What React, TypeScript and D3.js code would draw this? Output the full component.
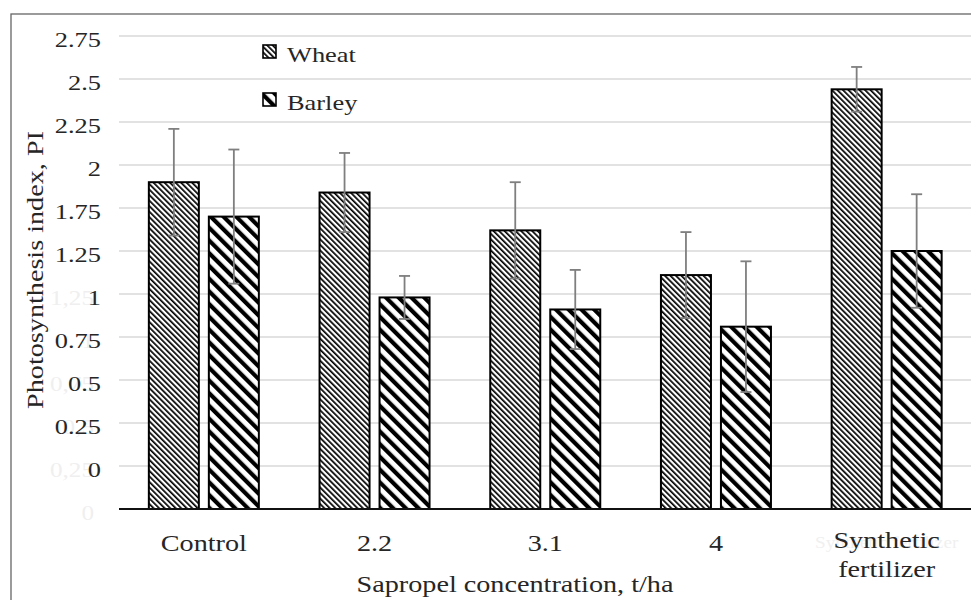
import React from "react";
import * as d3 from "d3";

const categories = ["Control", "2.2", "3.1", "4", "Synthetic\nfertilizer"];
const seriesNames = ["Wheat", "Barley"];
const wheat = [1.9, 1.84, 1.62, 1.36, 2.44];
const barley = [1.7, 1.23, 1.16, 1.06, 1.5];
const wheatErr = [0.31, 0.23, 0.28, 0.25, 0.13];
const barleyErr = [0.39, 0.125, 0.23, 0.38, 0.33];
const tickValues = [0.25, 0.5, 0.75, 1, 1.25, 1.5, 1.75, 2, 2.25, 2.5, 2.75];
const tickLabels = ["0", "0.25", "0.5", "0.75", "1", "1.25", "1.75", "2", "2.25", "2.5", "2.75"];
const ghostTickValues = [0, 0.25, 0.5, 0.75, 1, 1.25];
const ghostTickLabels = ["0", "0,25", "0,5", "0,75", "1", "1,25"];
const yTitle = "Photosynthesis index, PI";
const xTitle = "Sapropel concentration, t/ha";

const W = 971;
const H = 600;
const SX = 1.2;
const FONT = "'Liberation Serif', 'Times New Roman', serif";
const TXT = "#262626";

function T({ x, y, anchor = "start", size = 22, rot = 0, sx = SX, fill = TXT, children }: any) {
  return (
    <g transform={`translate(${x},${y}) rotate(${rot}) scale(${sx},1)`}>
      <text textAnchor={anchor} fontSize={size} style={{ fontFamily: FONT }} fill={fill}>
        {children}
      </text>
    </g>
  );
}

export default function App() {
  const y = d3.scaleLinear().domain([0, 2.75]).range([509, 36]);
  const x0 = d3.scaleBand<string>().domain(categories).range([118.5, 972]).padding(0);
  const bw0 = x0.bandwidth();
  const x1 = d3
    .scaleBand<string>()
    .domain(seriesNames)
    .range([bw0 / 2 - 55, bw0 / 2 + 55])
    .paddingInner(1 / 6)
    .paddingOuter(0);
  const data = [
    { name: "Wheat", vals: wheat, errs: wheatErr, fill: "url(#patWheat)" },
    { name: "Barley", vals: barley, errs: barleyErr, fill: "url(#patBarley)" },
  ];
  const legendY = [51.5, 99.5];

  return (
    <svg
      width={W}
      height={H}
      style={{ position: "absolute", left: 0, top: 0, background: "#fff" }}
    >
      <defs>
        <pattern
          id="patWheat"
          patternUnits="userSpaceOnUse"
          width={3.9}
          height={3.9}
          patternTransform="rotate(-45)"
        >
          <rect x={0} y={0} width={3.9} height={3.9} fill="#fff" />
          <rect x={0} y={0} width={1.7} height={3.9} fill="#000" />
        </pattern>
        <pattern
          id="patBarley"
          patternUnits="userSpaceOnUse"
          width={9}
          height={9}
          patternTransform="rotate(-45)"
        >
          <rect x={0} y={0} width={9} height={9} fill="#fff" />
          <rect x={0} y={0} width={4.2} height={9} fill="#000" />
        </pattern>
      </defs>

      {/* outer border */}
      <rect x={11} y={14} width={1000} height={700} fill="none" stroke="#666" strokeWidth={1.3} />

      {/* gridlines */}
      {tickValues.map((v) => (
        <line key={v} x1={119} x2={971} y1={y(v)} y2={y(v)} stroke="#d9d9d9" strokeWidth={1.6} />
      ))}

      {/* faint ghost labels visible in the reference */}
      {ghostTickValues.map((v, i) => (
        <T key={"g" + v} x={94} y={y(v) + 10.5} anchor="end" size={21} fill="#efefef">
          {ghostTickLabels[i]}
        </T>
      ))}
      <T x={x0("Synthetic\nfertilizer")! + bw0 / 2} y={548} anchor="middle" size={16} fill="#f0f0f0">
        Synthetic fertilizer
      </T>

      {/* tick labels */}
      {tickValues.map((v, i) => (
        <T key={"t" + v} x={101} y={y(v) + 10.5} anchor="end" size={22}>
          {tickLabels[i]}
        </T>
      ))}

      {/* bars */}
      {categories.map((c, ci) => (
        <g key={c} transform={`translate(${x0(c)},0)`}>
          {data.map((s) => {
            const bx = x1(s.name)!;
            const bw = x1.bandwidth();
            const v = s.vals[ci];
            return (
              <rect
                key={s.name}
                x={bx}
                y={y(v)}
                width={bw}
                height={y(0) - y(v)}
                fill={s.fill}
                stroke="#000"
                strokeWidth={2}
              />
            );
          })}
        </g>
      ))}

      {/* baseline */}
      <line x1={119} x2={971} y1={y(0)} y2={y(0)} stroke="#111" strokeWidth={2} />

      {/* error bars */}
      {categories.map((c, ci) => (
        <g key={"e" + c} transform={`translate(${x0(c)},0)`}>
          {data.map((s) => {
            const cx = x1(s.name)! + x1.bandwidth() / 2;
            const v = s.vals[ci];
            const e = s.errs[ci];
            return (
              <g key={s.name} stroke="#7f7f7f" strokeWidth={1.8}>
                <line x1={cx} x2={cx} y1={y(v + e)} y2={y(v - e)} />
                <line x1={cx - 5.5} x2={cx + 5.5} y1={y(v + e)} y2={y(v + e)} />
                <line x1={cx - 5.5} x2={cx + 5.5} y1={y(v - e)} y2={y(v - e)} />
              </g>
            );
          })}
        </g>
      ))}

      {/* category labels */}
      {categories.map((c) => {
        const lines = c.split("\n");
        const cx = x0(c)! + bw0 / 2;
        const y0 = lines.length > 1 ? 548 : 550.5;
        return (
          <g key={"l" + c}>
            {lines.map((ln, li) => (
              <T key={li} x={cx} y={y0 + li * 29} anchor="middle" size={23.5}>
                {ln}
              </T>
            ))}
          </g>
        );
      })}

      {/* axis titles */}
      <T x={43} y={270} anchor="middle" size={23.5} rot={-90}>
        {yTitle}
      </T>
      <T x={515} y={591.5} anchor="middle" size={23.5}>
        {xTitle}
      </T>

      {/* legend */}
      {data.map((s, i) => (
        <g key={"lg" + s.name}>
          <rect
            x={263}
            y={legendY[i] - 6.5}
            width={13}
            height={13}
            fill={s.fill}
            stroke="#000"
            strokeWidth={1.6}
          />
          <T x={287} y={legendY[i] + 10.5} size={22}>
            {s.name}
          </T>
        </g>
      ))}
    </svg>
  );
}
